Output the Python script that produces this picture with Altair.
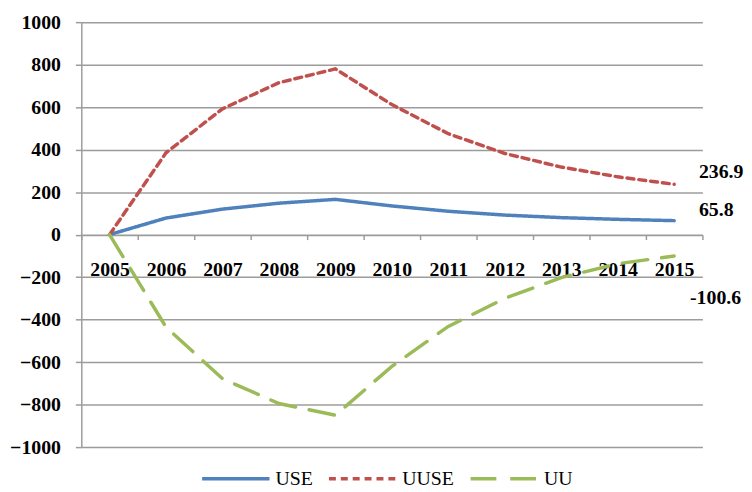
import altair as alt
import pandas as pd

years = [str(y) for y in range(2005, 2016)]
use = [0, 78, 120, 148, 166, 135, 110, 92, 80, 72, 65.8]
uuse = [0, 385, 592, 715, 780, 612, 475, 382, 318, 272, 236.9]
uu = [0, -435, -678, -795, -850, -620, -432, -300, -202, -137, -100.6]
series = ["USE", "UUSE", "UU"]
colors = ["#4F81BD", "#C0504D", "#9BBB59"]
dashes = [[1, 0], [7, 5], [26, 14]]
y_ticks = list(range(-1000, 1001, 200))

rows = []
for name, vals in zip(series, [use, uuse, uu]):
    for yr, v in zip(years, vals):
        rows.append({"year": yr, "value": v, "series": name})
df = pd.DataFrame(rows)

end_df = pd.DataFrame({
    "year": [years[-1]] * 3,
    "value": [use[-1], uuse[-1], uu[-1]],
    "series": series,
    "label": [f"{use[-1]}", f"{uuse[-1]}", f"{uu[-1]}"],
})

W, H = 627, 429
FONT = "Liberation Serif"
GRID = "#9c9c9c"

x_enc = alt.X(
    "year:O",
    bandPosition=0.5,
    scale=alt.Scale(type="band", paddingInner=0, paddingOuter=0),
    axis=alt.Axis(
        title=None, labelAngle=0, offset=-H / 2, tickBand="extent",
        domainColor=GRID, domainWidth=1.5, tickColor=GRID, tickWidth=1.5, tickSize=5,
        labelFont=FONT, labelFontWeight="bold", labelFontSize=20, labelColor="black",
        labelPadding=20, grid=False,
    ),
)
y_enc = alt.Y(
    "value:Q",
    scale=alt.Scale(domain=[-1000, 1000], nice=False),
    axis=alt.Axis(
        title=None, values=y_ticks, format="d", grid=True, gridColor=GRID, gridWidth=1.5,
        domainColor=GRID, domainWidth=1.5, tickColor=GRID, tickWidth=1.5, tickSize=6,
        labelFont=FONT, labelFontWeight="bold", labelFontSize=20, labelColor="black",
        labelPadding=15,
    ),
)

lines = alt.Chart(df).mark_line(strokeWidth=3.5, strokeCap="round").encode(
    x=x_enc,
    y=y_enc,
    color=alt.Color("series:N", scale=alt.Scale(domain=series, range=colors),
                    sort=series, title=None),
    strokeDash=alt.StrokeDash("series:N", scale=alt.Scale(domain=series, range=dashes),
                              sort=series, title=None),
    detail="series:N",
)

def end_label(name, dx, dy):
    return alt.Chart(end_df).transform_filter(alt.datum.series == name).mark_text(
        align="left", baseline="middle", dx=dx, dy=dy,
        font=FONT, fontWeight="bold", fontSize=20, color="black",
    ).encode(
        x=alt.X("year:O", bandPosition=0.5),
        y=alt.Y("value:Q"),
        text="label:N",
    )

chart = alt.layer(
    lines,
    end_label("UUSE", 25, -12),
    end_label("USE", 25, -11),
    end_label("UU", 16, 42),
).properties(
    width=W, height=H,
    padding={"left": 74, "top": 12, "right": 42, "bottom": 40},
    autosize="none",
).configure_view(stroke=None).configure_legend(
    orient="none", legendX=120, legendY=425, direction="horizontal",
    symbolType="stroke", symbolSize=4624, symbolStrokeWidth=3.5,
    labelFont=FONT, labelFontSize=20, labelColor="black", labelOffset=4,
    columnPadding=9, padding=0,
)

chart.save("out.html", embed_options={"renderer": "svg", "actions": False})
